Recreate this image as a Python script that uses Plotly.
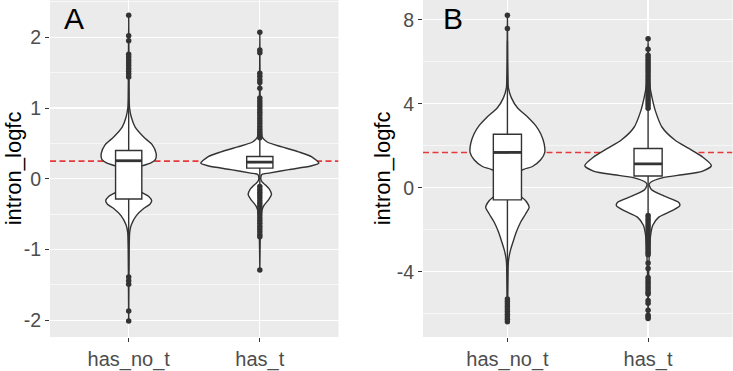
import plotly.graph_objects as go

# ---------------- data ----------------
categories = ["has_no_t", "has_t"]

# Panel A: violin density profiles (value, relative density; widest = 1)
a_no_vals = [2.31, 1.5, 1.14, 1.0, 0.87, 0.73, 0.59, 0.48, 0.36, 0.27, 0.22, 0.18, 0.12, 0.0,
             -0.1, -0.19, -0.25, -0.31, -0.36, -0.42, -0.52, -0.65, -0.75, -1.0, -1.5, -2.02]
a_no_dens = [0.0, 0.005, 0.008, 0.015, 0.045, 0.11, 0.254, 0.40, 0.465, 0.452, 0.368, 0.22, 0.15, 0.10,
             0.14, 0.22, 0.34, 0.39, 0.36, 0.254, 0.13, 0.045, 0.018, 0.008, 0.004, 0.0]
a_t_vals = [2.07, 1.2, 0.8, 0.65, 0.59, 0.52, 0.45, 0.38, 0.31, 0.22, 0.18, 0.13, 0.08, 0.06, 0.0,
            -0.04, -0.08, -0.15, -0.22, -0.29, -0.38, -0.45, -0.6, -0.8, -1.29]
a_t_dens = [0.0, 0.005, 0.015, 0.03, 0.04, 0.124, 0.373, 0.66, 0.88, 1.0, 0.864, 0.49, 0.153, 0.034, 0.017,
            0.034, 0.085, 0.164, 0.198, 0.153, 0.068, 0.034, 0.017, 0.008, 0.0]

# Panel B
b_no_vals = [8.21, 6.0, 5.2, 4.75, 4.28, 3.81, 3.35, 2.96, 2.57, 2.10, 1.67, 1.33, 1.01, 0.83, 0.5, 0.1,
             -0.3, -0.62, -0.93, -1.24, -1.63, -2.10, -2.57, -3.04, -3.5, -4.5, -6.38]
b_no_dens = [0.0, 0.005, 0.01, 0.016, 0.063, 0.158, 0.327, 0.447, 0.526, 0.58, 0.589, 0.526, 0.395, 0.226, 0.158, 0.126,
             0.174, 0.289, 0.343, 0.289, 0.21, 0.142, 0.09, 0.043, 0.016, 0.008, 0.0]
b_t_vals = [7.09, 5.5, 4.8, 4.28, 3.66, 2.88, 2.26, 1.87, 1.48, 1.05, 0.78, 0.62, 0.47, 0.27, 0.16,
            -0.08, -0.39, -0.70, -0.86, -1.09, -1.40, -1.79, -2.26, -2.87, -4.0, -6.23]
b_t_dens = [0.0, 0.01, 0.03, 0.063, 0.115, 0.221, 0.427, 0.643, 0.853, 1.0, 0.853, 0.537, 0.221, 0.047, 0.016,
            0.052, 0.248, 0.485, 0.5, 0.379, 0.169, 0.074, 0.04, 0.024, 0.01, 0.0]

# Box statistics: [has_no_t, has_t]
a_q1 = [-0.285, 0.15]
a_med = [0.255, 0.235]
a_q3 = [0.40, 0.315]
a_lo = [-1.30, -0.10]
a_hi = [1.40, 0.56]
b_q1 = [-0.58, 0.56]
b_med = [1.68, 1.14]
b_q3 = [2.55, 1.87]
b_lo = [-5.25, -1.30]
b_hi = [7.00, 3.70]

# Outliers
a_no_out = [2.31, 2.02, 1.95, 1.76, 1.72, 1.68, 1.64, 1.60, 1.56, 1.52, 1.48, 1.44,
            -1.39, -1.44, -1.49, -1.87, -2.01]
a_t_out = [2.07, 1.82, 1.78, 1.49, 1.45, 1.40, 1.36, 1.28,
           1.14, 1.10, 1.06, 1.02, 0.98, 0.94, 0.90, 0.86, 0.82, 0.78, 0.74, 0.70, 0.66, 0.62, 0.58,
           -0.11, -0.15, -0.19, -0.23, -0.27, -0.31, -0.35, -0.39, -0.43, -0.47, -0.51, -0.55,
           -0.59, -0.63, -0.67, -0.71, -0.75, -0.79, -0.82, -1.29]
b_no_out = [8.21, 7.58,
            -5.30, -5.42, -5.54, -5.66, -5.78, -5.90, -6.02, -6.14, -6.26, -6.38]
b_t_out = [7.09, 6.59, 6.31, 6.19, 6.07, 5.95, 5.83, 5.71, 5.59, 5.47, 5.35, 5.23, 5.11, 4.99,
           4.87, 4.75, 4.63, 4.51, 4.39, 4.27, 4.15, 4.03, 3.91, 3.79,
           -1.32, -1.44, -1.56, -1.68, -1.80, -1.92, -2.04, -2.16, -2.28, -2.40, -2.52, -2.64,
           -2.76, -2.88, -3.00, -3.10, -3.19, -3.58, -3.85, -4.27, -4.39, -4.51, -4.63, -4.75,
           -4.87, -4.99, -5.06, -5.37, -5.50, -5.84, -6.07, -6.15, -6.23]

ref_a = 0.25   # dashed reference (median of has_no_t)
ref_b = 1.68

range_a = [-2.2365, 2.5265]
range_b = [-7.11, 8.94]

# ---------------- styling ----------------
INK = "#333333"
FONT = "Liberation Sans, Arial, sans-serif"
HALF_MAX = 0.45
BOX_W = 0.2

fig = go.Figure()


def add_panel(xa, ya, ya_top, ref, profiles, q1, med, q3, lo, hi, outs):
    # reference dashed line (below violins)
    fig.add_trace(go.Scatter(x=[0.4, 2.6], y=[ref, ref], mode="lines",
                             line=dict(color="#E8393A", width=1.6, dash="6px,3.5px"),
                             xaxis=xa, yaxis=ya, hoverinfo="skip", showlegend=False))
    for i, (vals, dens) in enumerate(profiles):
        c = i + 1
        xs = [c + HALF_MAX * d for d in dens] + [c - HALF_MAX * d for d in reversed(dens)]
        ys = list(vals) + list(reversed(vals))
        fig.add_trace(go.Scatter(x=xs, y=ys, mode="lines", fill="toself", fillcolor="white",
                                 line=dict(color=INK, width=1.4, shape="spline", smoothing=0.7),
                                 xaxis=xa, yaxis=ya, hoverinfo="skip", showlegend=False))
    # boxes on an overlaid axis so they sit above the violins
    fig.add_trace(go.Box(x=[1, 2], q1=q1, median=med, q3=q3, lowerfence=lo, upperfence=hi,
                         width=BOX_W, whiskerwidth=0, fillcolor="white",
                         line=dict(color=INK, width=1.4), boxpoints=False,
                         xaxis=xa, yaxis=ya_top, hoverinfo="skip", showlegend=False))
    for i, m in enumerate(med):
        c = i + 1
        fig.add_trace(go.Scatter(x=[c - BOX_W / 2, c + BOX_W / 2], y=[m, m], mode="lines",
                                 line=dict(color=INK, width=2.8), xaxis=xa, yaxis=ya_top,
                                 hoverinfo="skip", showlegend=False))
    for i, o in enumerate(outs):
        fig.add_trace(go.Scatter(x=[i + 1] * len(o), y=o, mode="markers",
                                 marker=dict(color=INK, size=5.5), xaxis=xa, yaxis=ya_top,
                                 hoverinfo="skip", showlegend=False))


add_panel("x", "y", "y3", ref_a, [(a_no_vals, a_no_dens), (a_t_vals, a_t_dens)],
          a_q1, a_med, a_q3, a_lo, a_hi, [a_no_out, a_t_out])
add_panel("x2", "y2", "y4", ref_b, [(b_no_vals, b_no_dens), (b_t_vals, b_t_dens)],
          b_q1, b_med, b_q3, b_lo, b_hi, [b_no_out, b_t_out])

W, H = 733, 371
ytop = 1.0
ybot = 1 - 343.5 / H

xcommon = dict(range=[0.4, 2.6], tickvals=[1, 2], ticktext=categories, showgrid=True,
               gridcolor="white", gridwidth=1.2, zeroline=False, showline=False,
               ticks="outside", ticklen=4, tickcolor=INK, tickwidth=1,
               tickfont=dict(family=FONT, size=20, color="#4D4D4D"), fixedrange=True)
ycommon = dict(showgrid=True, gridcolor="white", gridwidth=1.2, zeroline=False, showline=False,
               ticks="outside", ticklen=4, tickcolor=INK, tickwidth=1,
               tickfont=dict(family=FONT, size=19.5, color="#4D4D4D"), fixedrange=True)

fig.update_layout(
    width=W, height=H, margin=dict(l=0, r=0, t=0, b=0),
    paper_bgcolor="white", plot_bgcolor="#EBEBEB", showlegend=False,
    xaxis=dict(domain=[50 / W, 338.5 / W], anchor="y", **xcommon),
    yaxis=dict(domain=[ybot, ytop], anchor="x", range=range_a,
               tickvals=[-2, -1, 0, 1, 2], ticktext=["-2", "-1", "0", "1", "2"],
               minor=dict(dtick=0.5, tick0=0, showgrid=True, gridcolor="white", gridwidth=0.6),
               **ycommon),
    yaxis3=dict(overlaying="y", anchor="x", range=range_a, visible=False, fixedrange=True),
    xaxis2=dict(domain=[423 / W, 732.5 / W], anchor="y2", **xcommon),
    yaxis2=dict(domain=[ybot, ytop], anchor="x2", range=range_b,
                tickvals=[-4, 0, 4, 8], ticktext=["-4", "0", "4", "8"],
                minor=dict(dtick=2, tick0=0, showgrid=True, gridcolor="white", gridwidth=0.6),
                **ycommon),
    yaxis4=dict(overlaying="y2", anchor="x2", range=range_b, visible=False, fixedrange=True),
    annotations=[
        dict(text="intron_logfc", x=13 / W, y=1 - 171.5 / H, xref="paper", yref="paper",
             textangle=-90, showarrow=False, xanchor="center", yanchor="middle",
             font=dict(family=FONT, size=22, color="black")),
        dict(text="intron_logfc", x=382 / W, y=1 - 171.5 / H, xref="paper", yref="paper",
             textangle=-90, showarrow=False, xanchor="center", yanchor="middle",
             font=dict(family=FONT, size=22, color="black")),
        dict(text="A", x=62 / W, y=1 - 19 / H, xref="paper", yref="paper",
             showarrow=False, xanchor="left", yanchor="middle",
             font=dict(family=FONT, size=30, color="black")),
        dict(text="B", x=441 / W, y=1 - 19 / H, xref="paper", yref="paper",
             showarrow=False, xanchor="left", yanchor="middle",
             font=dict(family=FONT, size=30, color="black")),
    ],
)

fig.write_html("out.html", config={"displayModeBar": False, "staticPlot": True},
               post_script="document.body.style.margin='0';document.body.style.padding='0';")
